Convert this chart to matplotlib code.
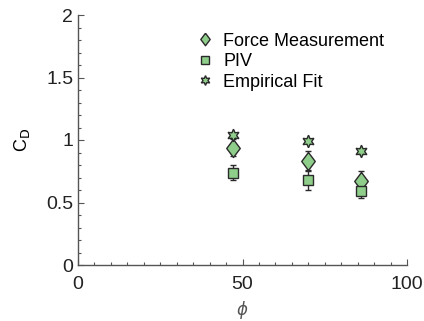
import matplotlib
matplotlib.use("Agg")
import matplotlib.pyplot as plt
from matplotlib.lines import Line2D
from matplotlib.ticker import MultipleLocator

plt.rcParams['font.family'] = ['Liberation Sans', 'DejaVu Sans']

phi = [47, 70, 86]
force = [0.94, 0.83, 0.67]
force_err = [0.07, 0.08, 0.08]
piv = [0.74, 0.68, 0.59]
piv_err = [0.06, 0.08, 0.05]
fit = [1.04, 0.99, 0.91]
fit_err = [0.02, 0.015, 0.02]
labels = ["Force Measurement", "PIV", "Empirical Fit"]

face = "#8fce8a"
edge = "#2a2a2a"
diamond = [(0, 1), (0.75, 0), (0, -1), (-0.75, 0), (0, 1)]
star = (6, 1, 0)

fig = plt.figure(figsize=(4.24, 3.21), dpi=100)
ax = fig.add_axes([78/424, 1-265/321, (407-78)/424, (265-15)/321])

common = dict(ls="none", mfc=face, mec=edge, mew=1.0, ecolor=edge,
              elinewidth=1.0, capsize=2.5, capthick=1.0)
ax.errorbar(phi, force, yerr=force_err, marker=diamond, ms=13, **common)
ax.errorbar(phi, piv, yerr=piv_err, marker="s", ms=7, **common)
ax.errorbar(phi, fit, yerr=fit_err, marker=star, ms=9, **common)

ax.set_xlim(0, 100)
ax.set_ylim(0, 2)
ax.set_xticks([0, 50, 100])
ax.set_yticks([0, 0.5, 1, 1.5, 2])
ax.set_yticklabels(["0", "0.5", "1", "1.5", "2"])
ax.xaxis.set_minor_locator(MultipleLocator(5))
ax.yaxis.set_minor_locator(MultipleLocator(0.1))
ax.tick_params(which="both", direction="in", color="#555555", labelsize=14,
               width=0.8, labelcolor="#222222")
ax.tick_params(which="major", length=4)
ax.tick_params(which="minor", length=2.5)
ax.tick_params(axis="x", pad=8)
for s in ["top", "right"]:
    ax.spines[s].set_visible(False)
for s in ["left", "bottom"]:
    ax.spines[s].set_color("#555555")
    ax.spines[s].set_linewidth(1.0)

ax.set_xlabel(r"$\phi$", fontsize=12, color="#555555")
ax.set_ylabel(r"C$_\mathrm{D}$", fontsize=13, labelpad=10)

handles = [
    Line2D([], [], ls="none", marker=diamond, ms=9, mfc=face, mec=edge, mew=1.0),
    Line2D([], [], ls="none", marker="s", ms=5.5, mfc=face, mec=edge, mew=1.0),
    Line2D([], [], ls="none", marker=star, ms=7, mfc=face, mec=edge, mew=1.0),
]
ax.legend(handles, labels, loc="upper left", bbox_to_anchor=(0.31, 0.995),
          frameon=False, fontsize=13, handletextpad=0.5, labelspacing=0.2,
          handlelength=1.0)

fig.savefig("out.png", dpi=100)
